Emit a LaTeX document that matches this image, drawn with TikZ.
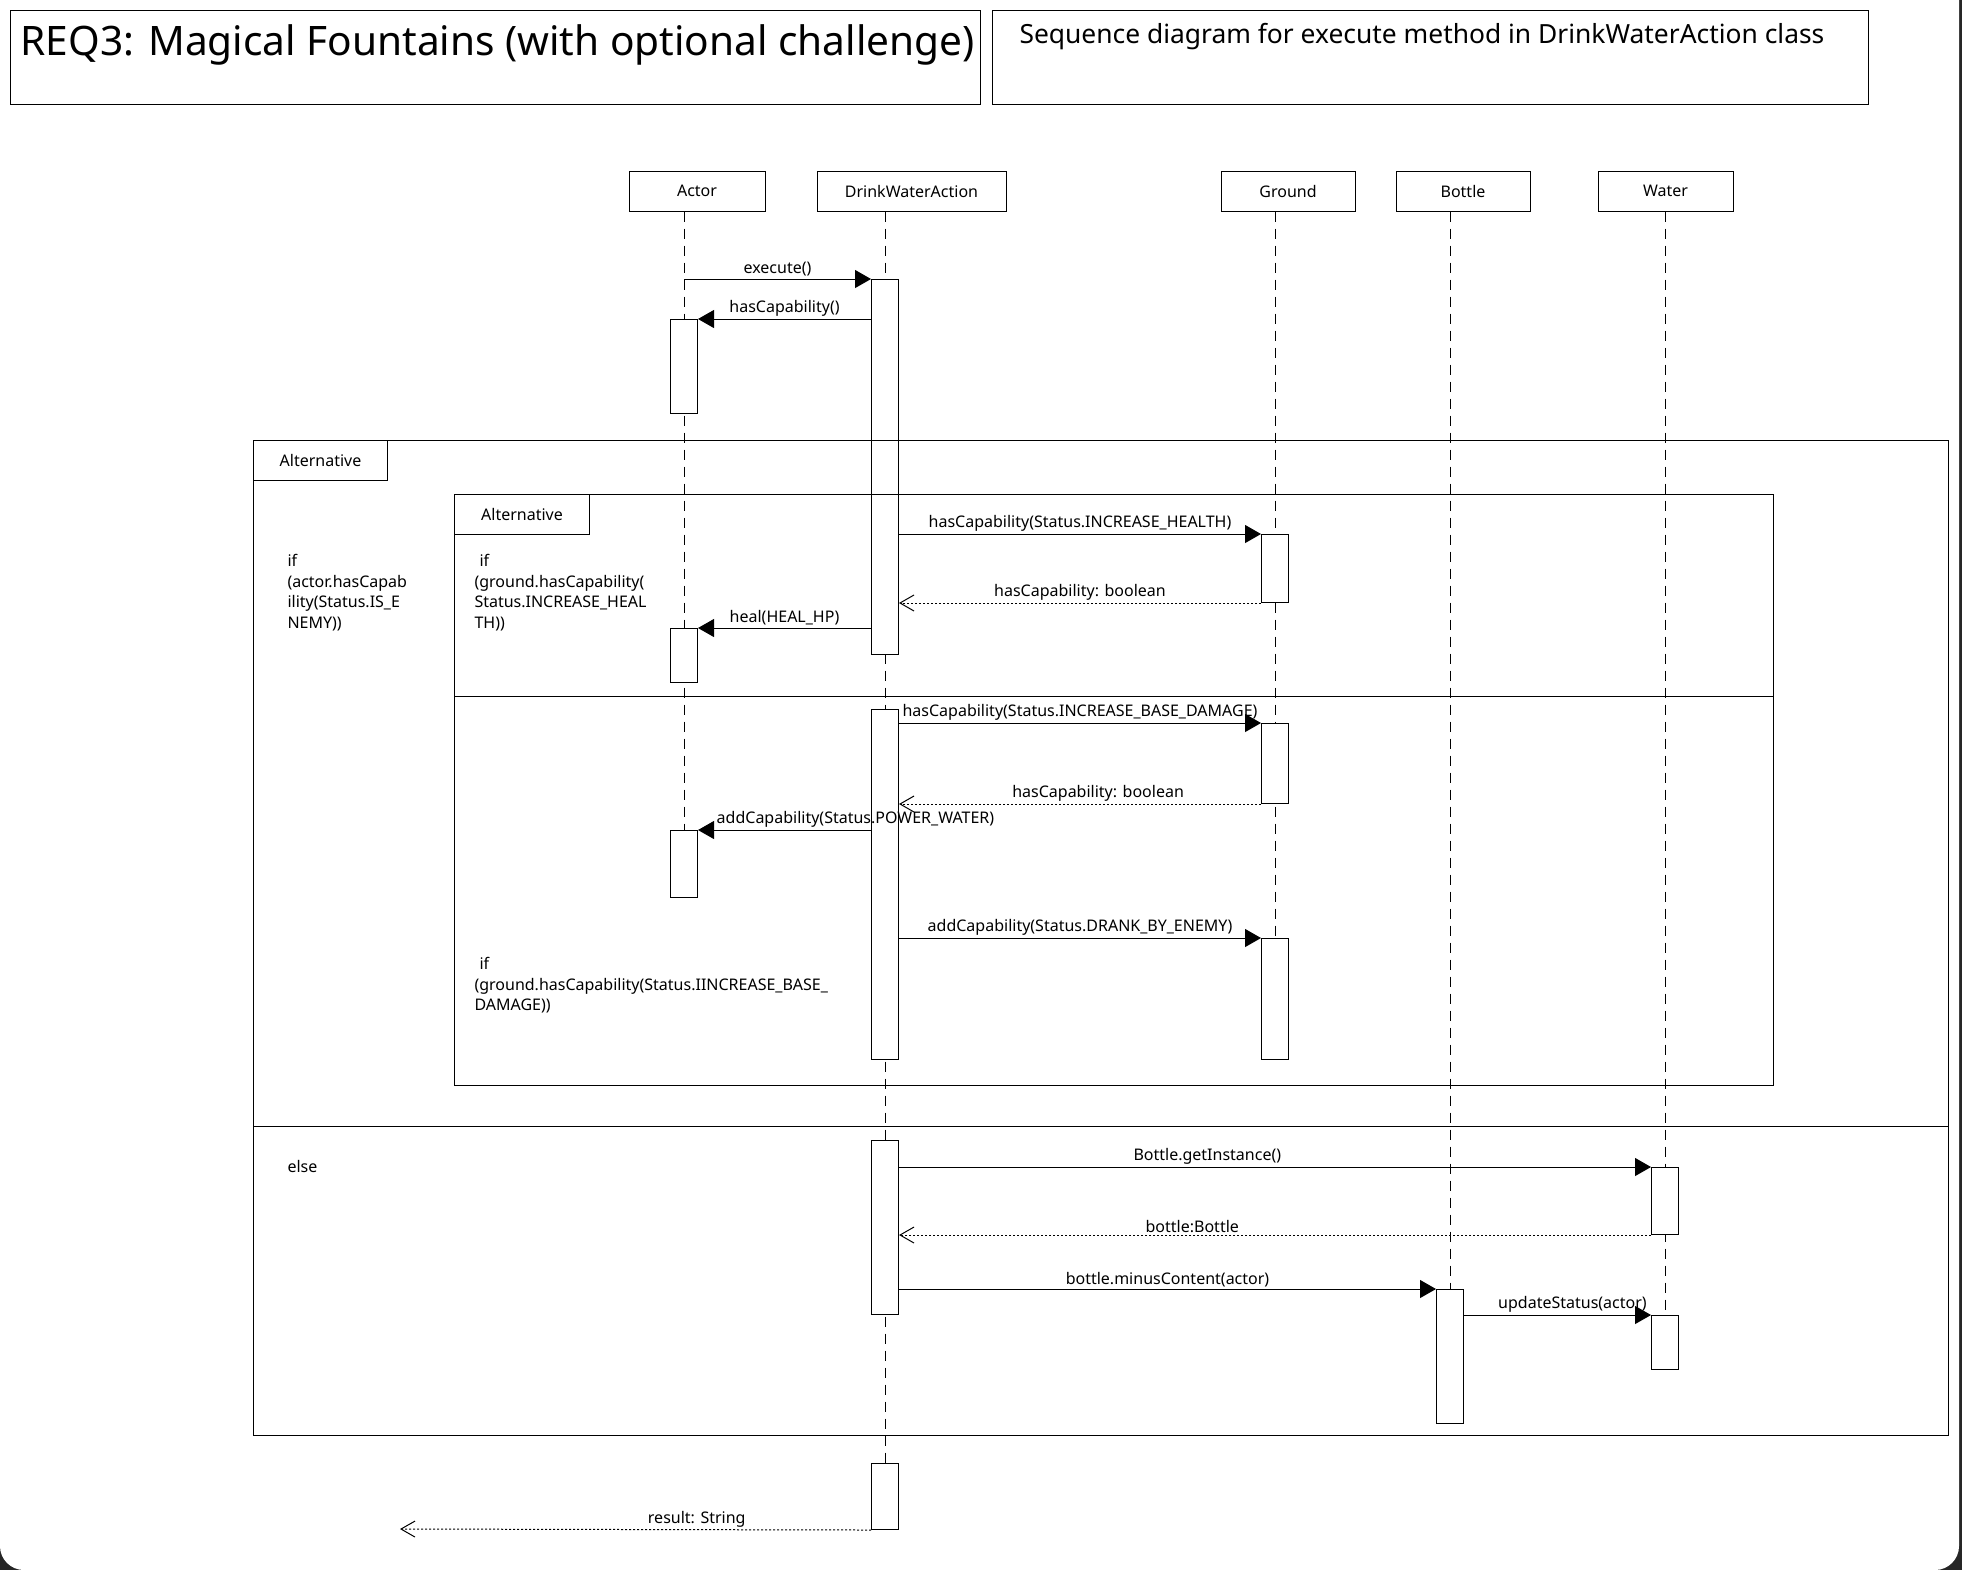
\documentclass[tikz,border=0pt]{standalone}
\usepackage{fontspec}
\setmainfont{Noto Sans}
\usetikzlibrary{arrows.meta,positioning}

\begin{document}
\begin{tikzpicture}[x=0.5pt, y=-0.5pt, line width=0.5pt,
  head/.style = {draw, minimum height=20pt, inner sep=0pt, font=\fontsize{8}{10}\selectfont},
  act/.style = {draw, fill=white, minimum width=13.5pt, anchor=north, inner sep=0pt},
  life/.style = {dash pattern=on 5pt off 3.5pt},
  call/.style = {-{Triangle[length=8pt,width=9pt]}},
  reply/.style = {dash pattern=on 1pt off 1pt, -{Straight Barb[length=7pt,width=8pt]}},
  lbl/.style = {above, inner sep=1pt, font=\fontsize{8}{10}\selectfont},
  altframe/.style = {draw, anchor=north west, inner sep=0pt},
  alttab/.style = {draw, anchor=north west, minimum height=20pt, inner sep=0pt, font=\fontsize{8}{10}\selectfont},
  guard/.style = {anchor=north west, align=left, inner sep=0pt, font=\fontsize{8}{10.3}\selectfont}]

% page and window edge
\useasboundingbox (0,0) rectangle (1962,1570);
\fill[black!85] (0,0) rectangle (1962,1570);
\fill[white] (1959,0) [rounded corners=12pt] -- (1959,1570) -- (0,1570) [sharp corners] -- (0,0) -- cycle;

% titles
\node[altframe, minimum width=485pt, minimum height=47pt] (titlebox) at (10,10) {};
\node[anchor=west, inner sep=0pt, font=\fontsize{20.3}{24}\selectfont] (title) at (20,45) {REQ3: Magical Fountains (with optional challenge)};
\node[altframe, minimum width=438pt, minimum height=47pt] (subbox) at (992,10) {};
\node[anchor=west, inner sep=0pt, font=\fontsize{13.2}{16}\selectfont] (subtitle) at (1019,37) {Sequence diagram for execute method in DrinkWaterAction class};

% lifeline heads
\node[head, minimum width=68pt] (actor) at (697,191) {Actor};
\node[head, minimum width=94.5pt] (dwa) at (911.5,191) {DrinkWaterAction};
\node[head, minimum width=67pt] (ground) at (1288,191) {Ground};
\node[head, minimum width=67pt] (bottle) at (1463,191) {Bottle};
\node[head, minimum width=67.5pt] (water) at (1665.5,191) {Water};

% activations
\coordinate (ax) at (684,0);
\coordinate (dx) at (885,0);
\coordinate (gx) at (1275,0);
\coordinate (bx) at (1450,0);
\coordinate (wx) at (1665,0);
\draw[life] (actor.south -| ax) -- (ax |- 0,897);
\draw[life] (dwa.south -| dx) -- (dx |- 0,1463);
\draw[life] (ground.south -| gx) -- (gx |- 0,1059);
\draw[life] (bottle.south -| bx) -- (bx |- 0,1289);
\draw[life] (water.south -| wx) -- (wx |- 0,1369);

\node[act, minimum height=47pt] (a1) at (684,319) {};
\node[act, minimum height=27pt] (a2) at (684,628) {};
\node[act, minimum height=33.5pt] (a3) at (684,830) {};
\node[act, minimum height=187.5pt] (d1) at (885,279) {};
\node[act, minimum height=175pt] (d2) at (885,709) {};
\node[act, minimum height=87pt] (d3) at (885,1140) {};
\node[act, minimum height=33pt] (d4) at (885,1463) {};
\node[act, minimum height=34pt] (g1) at (1275,534) {};
\node[act, minimum height=40pt] (g2) at (1275,723) {};
\node[act, minimum height=60.5pt] (g3) at (1275,938) {};
\node[act, minimum height=67pt] (b1) at (1450,1289) {};
\node[act, minimum height=33.5pt] (w1) at (1665,1167) {};
\node[act, minimum height=27pt] (w2) at (1665,1315) {};

% messages
\draw[call] (a1 |- d1.north) -- node[lbl] {execute()} (d1.north west);
\draw[call] (d1.west |- a1.north) -- node[lbl] {hasCapability()} (a1.north east);
\draw[call] (d1.east |- g1.north) -- node[lbl] {hasCapability(Status.INCREASE\_HEALTH)} (g1.north west);
\draw[reply] (g1.south west) -- node[lbl] {hasCapability: boolean} (d1.east |- g1.south);
\draw[call] (d1.west |- a2.north) -- node[lbl] {heal(HEAL\_HP)} (a2.north east);
\draw[call] (d2.east |- g2.north) -- node[lbl] {hasCapability(Status.INCREASE\_BASE\_DAMAGE)} (g2.north west);
\draw[reply] (g2.south west) -- node[lbl, pos=0.45] {hasCapability: boolean} (d2.east |- g2.south);
\draw[call] (d2.west |- a3.north) -- node[lbl, pos=0.09] {addCapability(Status.POWER\_WATER)} (a3.north east);
\draw[call] (d2.east |- g3.north) -- node[lbl] {addCapability(Status.DRANK\_BY\_ENEMY)} (g3.north west);
\draw[call] (d3.east |- w1.north) -- node[lbl, pos=0.41] {Bottle.getInstance()} (w1.north west);
\draw[reply] (w1.south west) -- node[lbl, pos=0.61] {bottle:Bottle} (d3.east |- w1.south);
\draw[call] (d3.east |- b1.north) -- node[lbl] {bottle.minusContent(actor)} (b1.north west);
\draw[call] (b1.east |- w2.north) -- node[lbl, pos=0.58] {updateStatus(actor)} (w2.north west);
\coordinate (caller) at (400,1529);
\draw[reply] (d4.south west) -- node[lbl, pos=0.37] {result: String} (caller);

% alternative frames
\node[altframe, minimum width=847.5pt, minimum height=497.5pt] (outer) at (253,440) {};
\node[alttab, minimum width=67pt] (outertab) at (outer.north west) {Alternative};
\draw (outer.west |- 0,1126) -- (outer.east |- 0,1126);
\node[guard] (ifenemy) at (287,554) {if\\(actor.hasCapab\\ility(Status.IS\_E\\NEMY))};
\node[guard] (elseguard) at (287,1160) {else};

\node[altframe, minimum width=659.5pt, minimum height=295.5pt] (inner) at (454,494) {};
\node[alttab, minimum width=67.5pt] (innertab) at (inner.north west) {Alternative};
\draw (inner.west |- 0,696) -- (inner.east |- 0,696);
\node[guard] (ifhealth) at (474,554) {\hspace{2.5pt}if\\(ground.hasCapability(\\Status.INCREASE\_HEAL\\TH))};
\node[guard] (ifdamage) at (474,957) {\hspace{2.5pt}if\\(ground.hasCapability(Status.IINCREASE\_BASE\_\\DAMAGE))};
\end{tikzpicture}
\end{document}
